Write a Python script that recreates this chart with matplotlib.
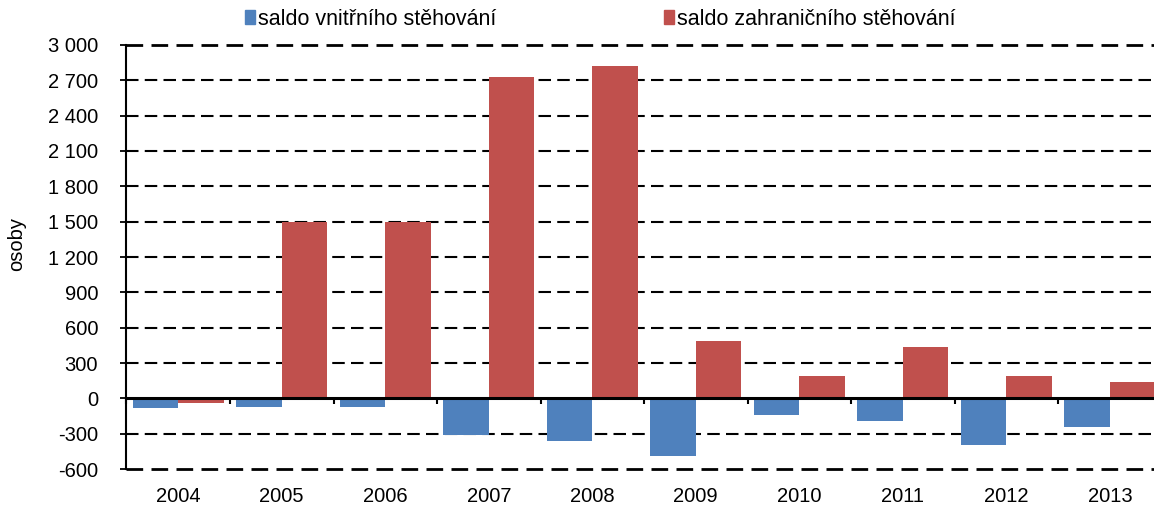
import matplotlib
matplotlib.use('Agg')
import matplotlib.pyplot as plt
import numpy as np
from matplotlib.patches import Patch

plt.rcParams['font.family'] = ['Liberation Sans', 'DejaVu Sans']

# === Data ===
years = ['2004', '2005', '2006', '2007', '2008', '2009', '2010', '2011', '2012', '2013']
internal = [-85, -75, -75, -315, -360, -490, -145, -195, -400, -245]
foreign = [-40, 1500, 1500, 2730, 2825, 488, 187, 438, 189, 137]

series_labels = ['saldo vnitřního stěhování', 'saldo zahraničního stěhování']
colors = ['#4F81BD', '#C0504D']

y_ticks = np.arange(-600, 3001, 300)

def fmt(v):
    return f"{v:,}".replace(',', ' ')

# === Figure ===
fig = plt.figure(figsize=(11.54, 5.17), dpi=100)
ax = fig.add_axes([0.1096, 0.0928, 0.897, 0.8202])

x = np.arange(len(years))
w = 0.44
ax.bar(x - w/2, internal, w, color=colors[0], zorder=3)
ax.bar(x + w/2, foreign, w, color=colors[1], zorder=3)

ax.set_xlim(-0.5, len(years) - 0.5)
ax.set_ylim(y_ticks[0], y_ticks[-1])
ax.set_yticks(y_ticks)
ax.set_yticklabels([fmt(v) for v in y_ticks])
ax.set_xticks(x)
ax.set_xticklabels(years)

# dashed gridlines, outer ones a bit heavier like the original
for v in y_ticks:
    if v == 0:
        continue
    lw = 2.0 if v in (y_ticks[0], y_ticks[-1]) else 1.5
    ax.axhline(v, color='black', lw=lw, ls=(0, (6, 3)), zorder=1, clip_on=False)
ax.axhline(0, color='black', lw=2.2, zorder=4)

for s in ['top', 'right', 'bottom']:
    ax.spines[s].set_visible(False)
ax.spines['left'].set_linewidth(1.5)
ax.tick_params(axis='y', length=4.5, width=1.3, pad=16, labelsize=14.5)
ax.tick_params(axis='x', length=0, pad=13, labelsize=14.5)
ax.set_ylabel('osoby', fontsize=14.5)
ax.yaxis.set_label_coords(-0.097, 0.53)

# category ticks on the zero line
zero_frac = (0 - y_ticks[0]) / (y_ticks[-1] - y_ticks[0])
sec = ax.secondary_xaxis(zero_frac)
sec.set_xticks(np.arange(len(years) + 1) - 0.5)
sec.set_xticklabels([])
sec.tick_params(length=4.5, width=1.5, direction='out')
sec.spines['bottom'].set_visible(False)

handles = [Patch(color=c) for c in colors]
fig.legend(handles, series_labels, loc='center', bbox_to_anchor=(0.52, 0.963),
           ncol=2, frameon=False, fontsize=15.5, handlelength=0.45, handleheight=0.65,
           handletextpad=0.15, columnspacing=7.8)

fig.savefig('out.png', dpi=100)
